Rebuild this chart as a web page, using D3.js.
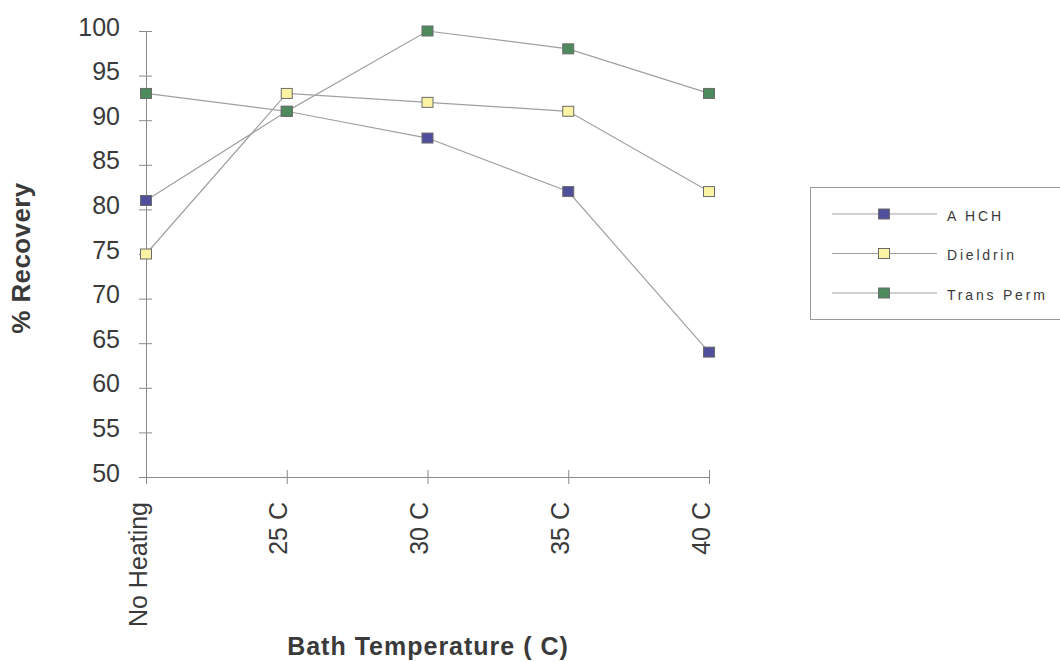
<!DOCTYPE html>
<html>
<head>
<meta charset="utf-8">
<script src="https://cdn.jsdelivr.net/npm/d3@7"></script>
<style>
  html, body { margin: 0; padding: 0; background: #fff; }
  svg { display: block; font-family: Arial, "Liberation Sans", sans-serif; }
</style>
</head>
<body>
<svg id="chart" width="1060" height="662"></svg>
<script>
// Recovery of pesticides at different bath temperatures
const categories = ["No Heating", "25 C", "30 C", "35 C", "40 C"];
const ahch      = [81, 91, 88, 82, 64];
const dieldrin  = [75, 93, 92, 91, 82];
const transPerm = [93, 91, 100, 98, 93];
const seriesNames = ["A HCH", "Dieldrin", "Trans Perm"];
const seriesColors = ["#4f4f9c", "#fbf3a4", "#4d8a5c"];
const yTicks = [50, 55, 60, 65, 70, 75, 80, 85, 90, 95, 100];

const series = [ahch, dieldrin, transPerm].map((vals, i) => ({
  name: seriesNames[i], color: seriesColors[i], values: vals
}));

const svg = d3.select("#chart");
const plot = { left: 146, right: 709, top: 31, bottom: 477 };
const font = "Arial, 'Liberation Sans', sans-serif";
const textColor = "#3a3a3a";

const x = d3.scalePoint().domain(categories).range([plot.left, plot.right]);
const y = d3.scaleLinear().domain([50, 100]).range([plot.bottom, plot.top]);

const axisColor = "#8a8a8a";

// Y axis: crossing tick marks
const yAxis = svg.append("g").attr("transform", `translate(${plot.left},0)`)
  .call(d3.axisLeft(y).tickValues(yTicks).tickSize(6).tickPadding(20));
yAxis.select(".domain").attr("stroke", axisColor);
yAxis.selectAll(".tick line").attr("stroke", axisColor).attr("x1", 6).attr("x2", -7);
yAxis.selectAll(".tick text").attr("font-size", 25).attr("fill", textColor)
  .attr("font-family", font).attr("dy", 4);

// X axis: rotated category labels, baseline on the tick
const xAxis = svg.append("g").attr("transform", `translate(0,${plot.bottom})`)
  .call(d3.axisBottom(x).tickSize(7).tickSizeOuter(0));
xAxis.select(".domain").attr("stroke", axisColor);
xAxis.selectAll(".tick line").attr("stroke", axisColor).attr("y1", -7).attr("y2", 7);
xAxis.selectAll(".tick text")
  .attr("font-size", 25).attr("fill", textColor)
  .attr("font-family", font)
  .attr("transform", "rotate(-90)")
  .attr("text-anchor", "end")
  .attr("x", -25).attr("y", 0).attr("dy", 0);

// Series lines
const line = d3.line().x((d, i) => x(categories[i])).y(d => y(d));
svg.append("g").selectAll("path").data(series).join("path")
  .attr("d", s => line(s.values))
  .attr("fill", "none").attr("stroke", "#a0a0a0").attr("stroke-width", 1.2);

// Square markers
const mw = 11, mh = 10;
series.forEach(s => {
  svg.append("g").selectAll("rect").data(s.values).join("rect")
    .attr("x", (d, i) => x(categories[i]) - mw / 2)
    .attr("y", d => y(d) - mh / 2)
    .attr("width", mw).attr("height", mh)
    .attr("fill", s.color).attr("stroke", "#6b6b6b").attr("stroke-width", 1);
});

// Axis titles
svg.append("text").attr("x", 428).attr("y", 655).attr("text-anchor", "middle")
  .attr("font-size", 25).attr("font-weight", "bold").attr("fill", textColor)
  .attr("letter-spacing", 1)
  .text("Bath Temperature ( C)");
svg.append("text").attr("transform", "translate(30,258) rotate(-90)")
  .attr("text-anchor", "middle").attr("font-size", 26).attr("font-weight", "bold")
  .attr("letter-spacing", 0.4)
  .attr("fill", textColor).text("% Recovery");

// Legend
const legend = svg.append("g");
legend.append("rect").attr("x", 810.5).attr("y", 187.5).attr("width", 260).attr("height", 132)
  .attr("fill", "#fff").attr("stroke", "#9a9a9a");
const rows = legend.selectAll("g.row").data(series).join("g").attr("class", "row")
  .attr("transform", (d, i) => `translate(0,${214 + i * 39.5})`);
rows.append("line").attr("x1", 832).attr("x2", 937).attr("y1", 0).attr("y2", 0)
  .attr("stroke", "#a0a0a0").attr("stroke-width", 1.2);
rows.append("rect").attr("x", 884 - mw / 2).attr("y", -mh / 2).attr("width", mw).attr("height", mh)
  .attr("fill", d => d.color).attr("stroke", "#6b6b6b");
rows.append("text").attr("x", 947).attr("y", 2).attr("dy", "0.35em")
  .attr("font-size", 14).attr("letter-spacing", 2.8).attr("fill", textColor)
  .text(d => d.name);
</script>
</body>
</html>
